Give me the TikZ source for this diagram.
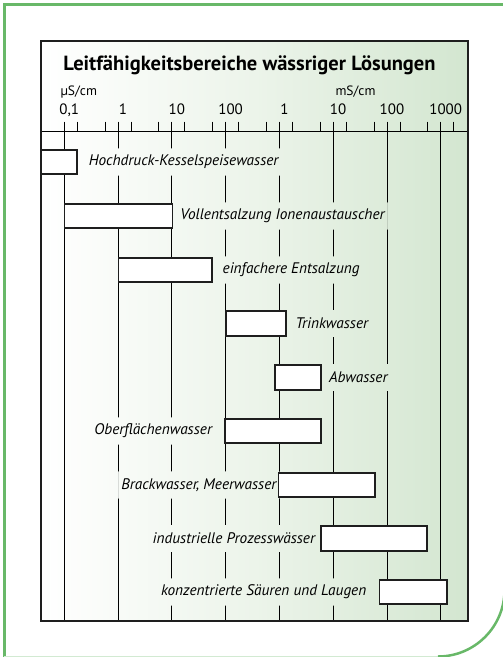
\documentclass[tikz,border=0pt]{standalone}
\usepackage{fontspec}
\setmainfont{PT Sans}
\usetikzlibrary{positioning}
\definecolor{framegreen}{RGB}{104,184,104}
\definecolor{bgmid}{RGB}{236,244,234}
\definecolor{bgright}{RGB}{211,230,208}
\definecolor{barline}{RGB}{30,30,30}
\pgfdeclarelayer{background}
\pgfsetlayers{background,main}

\begin{document}
\begin{tikzpicture}[x=1pt,y=-1pt,
    rangebar/.style={draw=barline, fill=white, line width=1.6pt, minimum height=24.5pt, inner sep=0pt},
    rangelabel/.style={font=\fontsize{15.3}{17}\selectfont\itshape, inner xsep=3pt, inner ysep=0pt, minimum height=27pt},
    decade/.style={font=\fontsize{15}{17}\selectfont, anchor=base},
    unit/.style={font=\fontsize{13.5}{15}\selectfont, anchor=base west},
    gridline/.style={line width=0.8pt},
    node distance=6pt]
    \useasboundingbox (0,0) rectangle (503,657);

    % title and units
    \node (title) [font=\fontsize{20.5}{23}\selectfont\bfseries, anchor=base] at (249.5,70) {Leitfähigkeitsbereiche wässriger Lösungen};
    \node (us) [unit] at (57,95) {µS/cm};
    \node (ms) [unit] at (332,95) {mS/cm};

    % ranges
    \node (hk) [rangebar, minimum width=35.7pt] at (58.9,162) {};
    \node (ve) [rangebar, minimum width=108pt] at (118.3,216) {};
    \node (ee) [rangebar, minimum width=93.4pt] at (165,270) {};
    \node (tw) [rangebar, minimum width=60pt] at (255.7,323.5) {};
    \node (aw) [rangebar, minimum width=46pt] at (298,377.5) {};
    \node (ow) [rangebar, minimum width=96pt] at (273,431) {};
    \node (bm) [rangebar, minimum width=96.7pt] at (326.7,485) {};
    \node (ip) [rangebar, minimum width=105.7pt] at (373.9,538.5) {};
    \node (ks) [rangebar, minimum width=67.4pt] at (413,592) {};

    \node (lhk) [rangelabel, right=8pt of hk] {Hochdruck-Kesselspeisewasser};
    \node (lve) [rangelabel, right=4pt of ve] {Vollentsalzung Ionenaustauscher};
    \node (lee) [rangelabel, right=7pt of ee] {einfachere Entsalzung};
    \node (ltw) [rangelabel, right=6pt of tw] {Trinkwasser};
    \node (law) [rangelabel, right=4pt of aw] {Abwasser};
    \node (low) [rangelabel, left=9pt of ow] {Oberflächenwasser};
    \node (lbm) [rangelabel, left=-2pt of bm] {Brackwasser, Meerwasser};
    \node (lip) [rangelabel, left=2pt of ip] {industrielle Prozesswässer};
    \node (lks) [rangelabel, left=9pt of ks] {konzentrierte Säuren und Laugen};

    % scale
    \draw[line width=1.2pt] (41,131.7) -- (468,131.7);
    \foreach \i in {0,...,7} {
        \draw[gridline] (64.3+53.77*\i,121.7) -- ++(0,10);
        \draw[gridline] (77.3+53.77*\i,121.7) -- ++(0,10);
    }
    \foreach \i in {1,...,7}
        \draw[gridline] (51.3+53.77*\i,121.7) -- ++(0,10);
    \foreach \v [count=\i from 0] in {{0,1},1,10,100,1,10,100,1000}
        \node[decade] at (69.3+53.77*\i,114) {\v};

    \begin{pgfonlayer}{background}
        \shade[left color=white, right color=bgmid] (41,41) rectangle (254,621);
        \shade[left color=bgmid, right color=bgright] (254,41) rectangle (468,621);
        \begin{scope}[even odd rule]
            \clip (41,131.7) rectangle (468,621)
                (lhk.north west) rectangle (lhk.south east)
                (lve.north west) rectangle (lve.south east)
                (lee.north west) rectangle (lee.south east)
                (ltw.north west) rectangle (ltw.south east)
                (law.north west) rectangle (law.south east)
                (low.north west) rectangle (low.south east)
                (lbm.north west) rectangle (lbm.south east)
                (lip.north west) rectangle (lip.south east)
                (lks.north west) rectangle (lks.south east);
            \foreach \i in {0,...,7}
                \draw[gridline] (64.3+53.77*\i,131.7) -- (64.3+53.77*\i,621);
        \end{scope}
    \end{pgfonlayer}

    % frames
    \draw[line width=1.8pt, barline] (41,41) rectangle (468,621);
    \draw[framegreen, line width=3pt] (503,4) -- (4,4) -- (4,657);
    \draw[framegreen!30, line width=1.5pt] (4,656.5) -- (438,656.5);
    \draw[framegreen, line width=2.5pt] (438,656.5) arc[start angle=90, end angle=0, radius=66.5];
\end{tikzpicture}
\end{document}
